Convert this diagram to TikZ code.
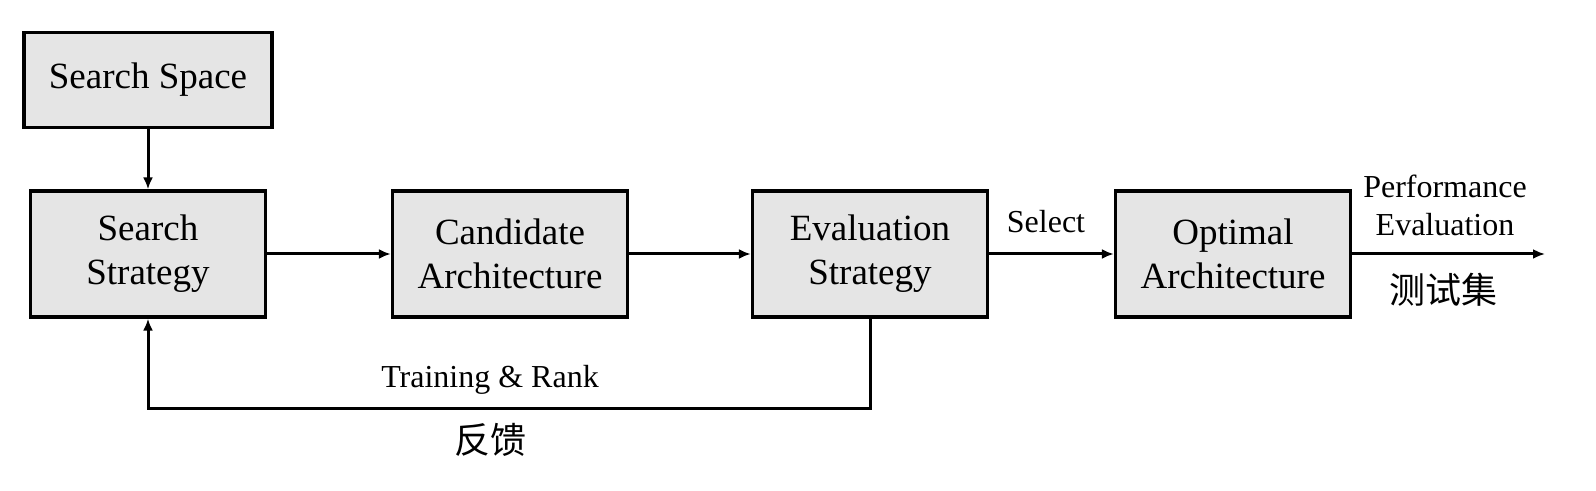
\documentclass[tikz,border=0pt]{standalone}
\usepackage{fontspec}
\setmainfont{Liberation Serif}
\newfontfamily\cjk{Noto Sans CJK SC}
\usetikzlibrary{arrows.meta}
\begin{document}
\begin{tikzpicture}[x=0.5pt,y=-0.5pt,
  block/.style={draw, line width=1.6pt, fill=black!10, minimum width=117.5pt, minimum height=63pt, align=center, inner sep=0pt, font=\fontsize{18.5}{22}\selectfont},
  lbl/.style={align=center, font=\fontsize{16}{19}\selectfont},
  zh/.style={font=\fontsize{18}{22}\selectfont\cjk},
  link/.style={line width=1.5pt, -{Latex[length=6pt,width=5pt]}}]
\useasboundingbox (0,0) rectangle (1596,491);
\node[block, minimum width=124pt, minimum height=47.5pt] (space) at (148,80) {Search Space};
\node[block] (strategy) at (148,254) {Search\\Strategy};
\node[block] (cand) at (510,254) {Candidate\\Architecture};
\node[block] (eval) at (870,254) {Evaluation\\Strategy};
\node[block] (opt) at (1233,254) {Optimal\\Architecture};
\coordinate (out) at (1545,254);
\coordinate (back) at (148,409);
\draw[link] (space) -- (strategy);
\draw[link] (strategy) -- (cand);
\draw[link] (cand) -- (eval);
\draw[link] (eval) -- (opt);
\draw[link] (opt) -- (out);
\draw[link] (eval.south) |- (back) -- (strategy.south);
\node[lbl] (select) at (1046,222) {Select};
\node[lbl] (perf) at (1445,205) {Performance\\Evaluation};
\node[zh] (test) at (1443,290) {测试集};
\node[lbl] (train) at (490,380) {Training \& Rank};
\node[zh] (fb) at (490,440) {反馈};
\end{tikzpicture}
\end{document}
